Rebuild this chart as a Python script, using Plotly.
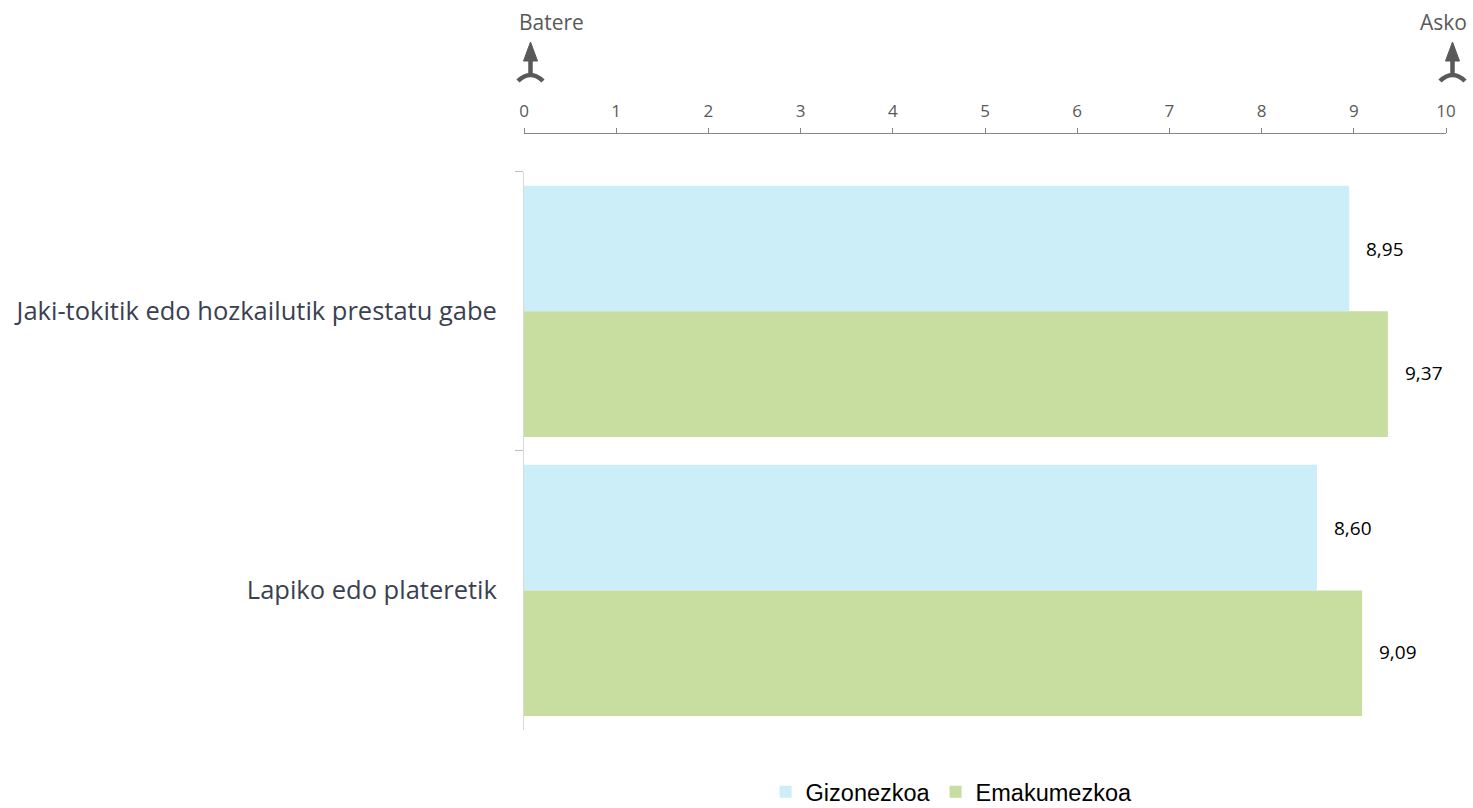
import plotly.graph_objects as go

# Data
categories = ["Jaki-tokitik edo hozkailutik prestatu gabe", "Lapiko edo plateretik"]
series_names = ["Gizonezkoa", "Emakumezkoa"]
gizonezkoa = [8.95, 8.60]
emakumezkoa = [9.37, 9.09]
x_ticks = list(range(0, 11))
scale_low_label = "Batere"
scale_high_label = "Asko"

colors = ["#CBEEF8", "#C8DDA0"]
values = [gizonezkoa, emakumezkoa]

fig = go.Figure()
for name, vals, col in zip(series_names, values, colors):
    fig.add_trace(go.Bar(
        name=name, y=categories, x=vals, orientation="h",
        marker=dict(color=col, line=dict(width=0)),
        hoverinfo="skip",
    ))

# Value labels to the right of each bar
for i, vals in enumerate(values):
    shift = 62 if i == 0 else -62
    for cat, v in zip(categories, vals):
        fig.add_annotation(
            x=v, y=cat, xref="x", yref="y", text=f"{v:.2f}".replace(".", ","),
            showarrow=False, xanchor="left", xshift=15, yshift=shift,
            font=dict(family="Open Sans", size=19, color="#000000"),
        )

# Scale end labels with upward arrows (paper x 0 / 1 coincide with axis 0 / 10)
arrow_col = "#595959"
for px, label, anchor, tshift in [(0, scale_low_label, "left", -7), (1, scale_high_label, "right", 23)]:
    fig.add_annotation(
        x=px, y=1, xref="paper", yref="paper", yanchor="middle", yshift=111,
        text=label, showarrow=False, xanchor=anchor, xshift=tshift,
        font=dict(family="Open Sans", size=21, color=arrow_col),
    )
    common = dict(type="path", xref="paper", yref="paper", xsizemode="pixel",
                  ysizemode="pixel", xanchor=px, yanchor=1)
    # arrow head
    fig.add_shape(**common, path="M 6.5,91 L 13.5,72 L -0.5,72 Z",
                  fillcolor=arrow_col, line=dict(color=arrow_col, width=1))
    # arrow shaft
    fig.add_shape(**common, path="M 6.5,73 L 6.5,57",
                  line=dict(color=arrow_col, width=4.5))
    # curved foot
    fig.add_shape(**common, path="M -6,52 Q 6.5,64 19,52",
                  line=dict(color=arrow_col, width=4.5))

fig.update_layout(
    width=1473, height=808,
    margin=dict(l=524, r=27, t=133, b=78, autoexpand=False),
    plot_bgcolor="white", paper_bgcolor="white",
    barmode="group", bargap=0.1, bargroupgap=0,
    separators=",.",
    showlegend=True,
    legend=dict(
        orientation="h", x=0.262, xanchor="left", y=-0.104, yanchor="middle",
        font=dict(family="Liberation Sans", size=23.5, color="#000000"),
        itemwidth=30, tracegroupgap=0,
    ),
    xaxis=dict(
        range=[0, 10], side="top", anchor="free", position=1,
        tickvals=x_ticks, ticktext=[str(t) for t in x_ticks],
        showgrid=False, zeroline=False,
        showline=True, linecolor="#868686", linewidth=1,
        ticks="outside", ticklen=5, tickcolor="#868686",
        ticklabelstandoff=4,
        tickfont=dict(family="Open Sans", size=17, color="#595959"),
    ),
    yaxis=dict(
        domain=[0, 0.935], autorange="reversed",
        showgrid=False, zeroline=False,
        showline=True, linecolor="#D9D9D9", linewidth=1,
        ticks="outside", ticklen=8, tickcolor="#BFBFBF", tickson="boundaries",
        ticklabelstandoff=21,
        tickfont=dict(family="Open Sans", size=25.5, color="#3A3F51"),
    ),
)

fig.write_html("out.html")
